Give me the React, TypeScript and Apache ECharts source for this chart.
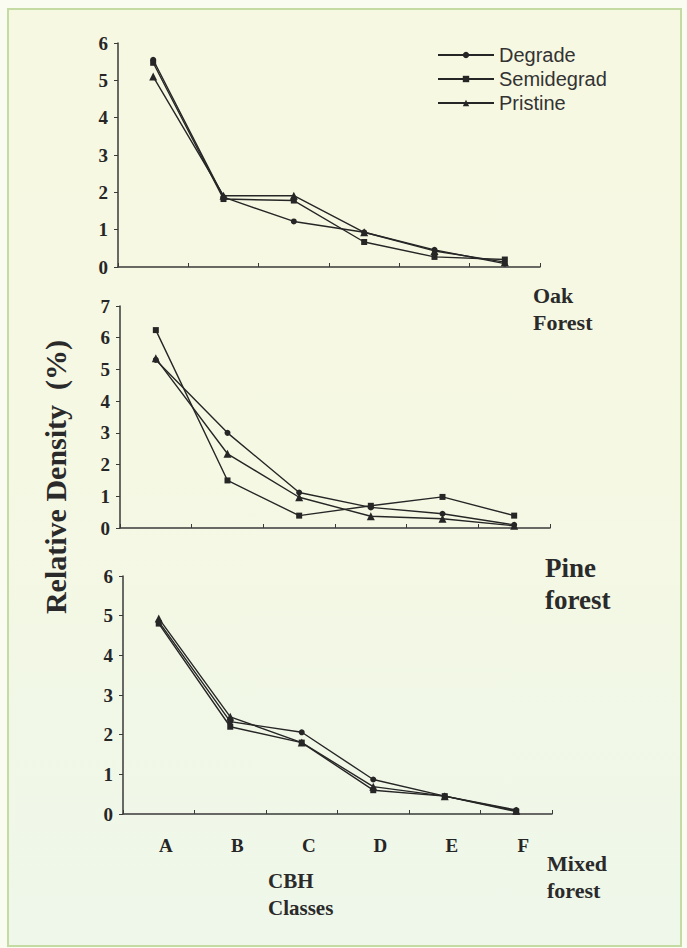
import React, { useEffect, useRef } from "react";
import * as echarts from "echarts";

const categories = ["A", "B", "C", "D", "E", "F"];
const seriesNames = ["Degrade", "Semidegrad", "Pristine"];
const symbols = ["circle", "rect", "triangle"];
const symbolSizes = [6, 6, 8];

// Oak forest (top panel)
const oakDegrade = [5.55, 1.87, 1.22, 0.93, 0.46, 0.09];
const oakSemidegrad = [5.47, 1.82, 1.78, 0.67, 0.27, 0.2];
const oakPristine = [5.1, 1.91, 1.91, 0.93, 0.43, 0.13];

// Pine forest (middle panel)
const pineDegrade = [5.3, 3.0, 1.12, 0.65, 0.45, 0.1];
const pineSemidegrad = [6.24, 1.5, 0.39, 0.7, 0.98, 0.39];
const pinePristine = [5.35, 2.34, 0.97, 0.37, 0.29, 0.07];

// Mixed forest (bottom panel)
const mixedDegrade = [4.85, 2.33, 2.06, 0.87, 0.45, 0.1];
const mixedSemidegrad = [4.8, 2.2, 1.8, 0.6, 0.45, 0.06];
const mixedPristine = [4.93, 2.45, 1.8, 0.69, 0.45, 0.08];

const yMax = [6, 7, 6];

const panels = [
  [oakDegrade, oakSemidegrad, oakPristine],
  [pineDegrade, pineSemidegrad, pinePristine],
  [mixedDegrade, mixedSemidegrad, mixedPristine],
];

const SERIF = "'Liberation Serif', 'Times New Roman', serif";
const SANS = "'Liberation Sans', Arial, sans-serif";
const INK = "#262626";

export default function App() {
  const ref = useRef<HTMLDivElement>(null);

  useEffect(() => {
    if (!ref.current) return;
    const chart = echarts.init(ref.current, null, { renderer: "svg" });

    const grids = [
      { left: 118, top: 43, width: 422, height: 224 },
      { left: 120, top: 306, width: 430, height: 222 },
      { left: 123, top: 576, width: 429, height: 238 },
    ];

    const xAxes = grids.map((_, i) => ({
      type: "category",
      gridIndex: i,
      data: categories,
      boundaryGap: true,
      axisLine: { lineStyle: { color: "#3a3a3a", width: 1.5 } },
      axisTick: { show: true, inside: true, length: 4, lineStyle: { color: "#3a3a3a" } },
      axisLabel: {
        show: i === 2,
        fontFamily: SERIF,
        fontWeight: "bold",
        fontSize: 19,
        color: INK,
        margin: 22,
        padding: [0, 0, 0, 14],
      },
      splitLine: { show: false },
    }));

    const yAxes = grids.map((_, i) => ({
      type: "value",
      gridIndex: i,
      min: 0,
      max: yMax[i],
      interval: 1,
      axisLine: { show: true, lineStyle: { color: "#3a3a3a", width: 1.5 } },
      axisTick: { show: true, length: 4, lineStyle: { color: "#3a3a3a" } },
      axisLabel: {
        fontFamily: SERIF,
        fontWeight: "bold",
        fontSize: 19,
        color: INK,
        margin: 10,
      },
      splitLine: { show: false },
    }));

    const series: any[] = [];
    panels.forEach((panel, p) => {
      panel.forEach((vals, s) => {
        series.push({
          type: "line",
          name: seriesNames[s],
          xAxisIndex: p,
          yAxisIndex: p,
          data: vals,
          symbol: symbols[s],
          symbolSize: symbolSizes[s],
          showAllSymbol: true,
          lineStyle: { color: INK, width: 1.4 },
          itemStyle: { color: INK },
          emphasis: { disabled: true },
        });
      });
    });

    const boldSerif = (size: number) => ({
      fontFamily: SERIF,
      fontWeight: "bold",
      fontSize: size,
      fill: "#2a2a2a",
    });

    chart.setOption({
      animation: false,
      backgroundColor: "#fafcf1",
      grid: grids,
      xAxis: xAxes,
      yAxis: yAxes,
      legend: {
        data: seriesNames,
        orient: "vertical",
        left: 432,
        top: 40,
        itemWidth: 56,
        itemHeight: 8,
        itemGap: 4,
        selectedMode: false,
        textStyle: { fontFamily: SANS, fontSize: 20, color: "#333", lineHeight: 19 },
      },
      graphic: [
        {
          type: "rect",
          z: -10,
          silent: true,
          shape: { x: 8, y: 9, width: 673, height: 937 },
          style: {
            fill: new echarts.graphic.LinearGradient(0, 0, 0, 1, [
              { offset: 0, color: "#f7f8e2" },
              { offset: 0.5, color: "#f5f8e3" },
              { offset: 1, color: "#eef7ea" },
            ]),
            stroke: "#c4dba4",
            lineWidth: 2,
          },
        },
        {
          type: "text",
          x: 55,
          y: 477,
          rotation: Math.PI / 2,
          style: {
            text: "Relative Density  (%)",
            ...boldSerif(30),
            align: "center",
            verticalAlign: "middle",
          },
        },
        {
          type: "text",
          x: 533,
          y: 282,
          style: { text: "Oak\nForest", ...boldSerif(22), lineHeight: 27 },
        },
        {
          type: "text",
          x: 545,
          y: 552,
          style: { text: "Pine\nforest", ...boldSerif(27), lineHeight: 32 },
        },
        {
          type: "text",
          x: 547,
          y: 850,
          style: { text: "Mixed\nforest", ...boldSerif(22), lineHeight: 27 },
        },
        {
          type: "text",
          x: 268,
          y: 867,
          style: { text: "CBH\nClasses", ...boldSerif(21), lineHeight: 27 },
        },
      ],
      series,
    });

    return () => chart.dispose();
  }, []);

  return (
    <div
      ref={ref}
      style={{ position: "absolute", left: 0, top: 0, width: 687, height: 948 }}
    />
  );
}
